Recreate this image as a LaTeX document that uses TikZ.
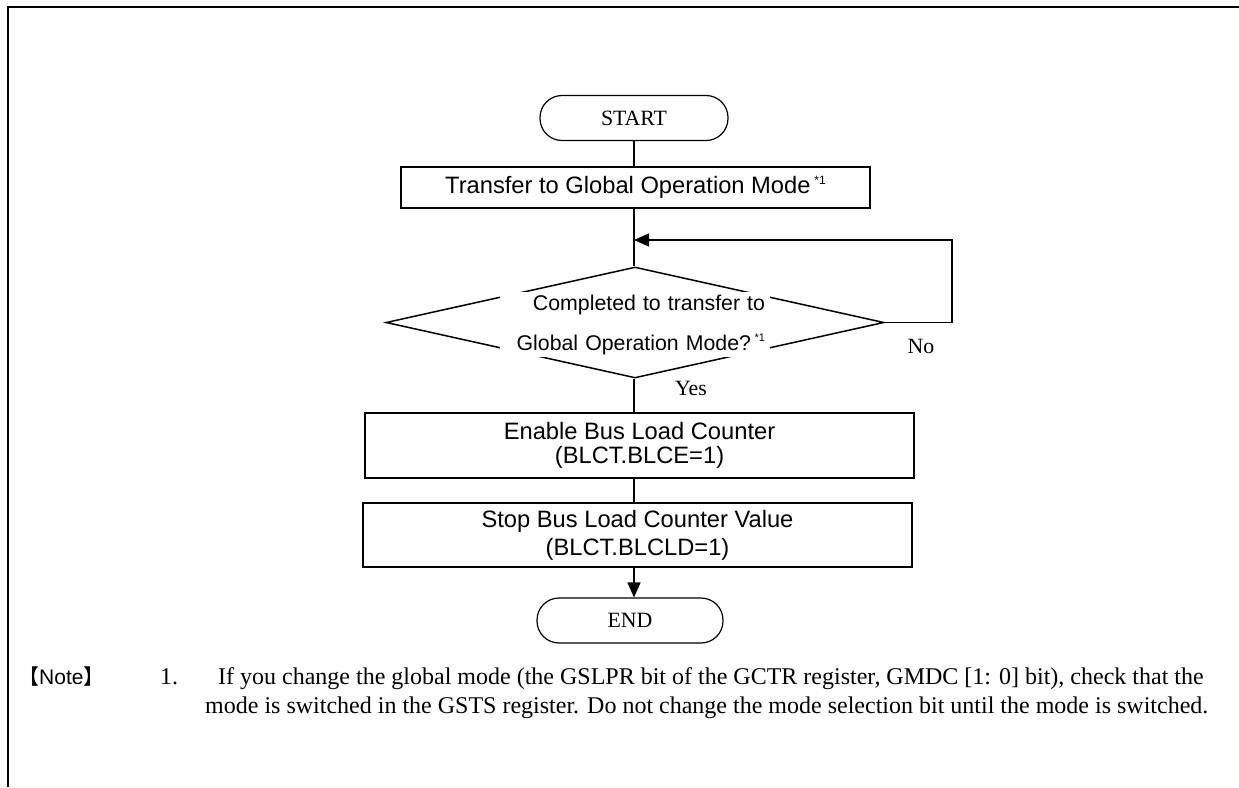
\documentclass[tikz,border=0pt]{standalone}
\usepackage{fontspec}
\setmainfont{Liberation Serif}
\newfontfamily\arial{Liberation Sans}
\newfontfamily\cjk{Noto Sans CJK JP}
\usetikzlibrary{arrows.meta,shapes.geometric}
\begin{document}
\begin{tikzpicture}[x=1pt,y=-1pt,
  conn/.style={draw=black, line width=1.5pt},
  arr/.style={-{Triangle[length=15pt,width=13pt]}},
  term/.style={draw=black, line width=1.2pt, rounded corners=22pt, minimum height=45pt, inner sep=0pt,
    font=\fontsize{21.8}{24}\selectfont},
  proc/.style={draw=black, line width=2pt, inner sep=0pt, align=center},
  sansbig/.style={font=\arial\fontsize{23.7}{21}\selectfont},
  lbl/.style={inner sep=0pt, font=\fontsize{21.8}{24}\selectfont},
  notetxt/.style={inner sep=0pt, anchor=base west, font=\fontsize{24}{29}\selectfont}]
\useasboundingbox (0,0) rectangle (1239,787);
% frame
\draw[line width=2pt] (8,787) -- (8,7) -- (1239,7);
\coordinate (cx) at (634,0);
% nodes
\node[term, minimum width=188pt] (st) at (634,118) {START};
\node[proc, sansbig, minimum width=469pt, minimum height=41pt] (tr) at (635.5,187.5)
  {Transfer to Global Operation Mode\,\raisebox{9pt}{\fontsize{12}{12}\selectfont *1}};
\node[diamond, draw=black, line width=1.5pt, minimum width=498pt, minimum height=111pt, inner sep=0pt] (dia) at (635,322.5) {};
\node[fill=white, inner xsep=5pt, inner ysep=0pt, text width=260pt, minimum height=65pt, align=right,
  font=\arial\fontsize{21.3}{40}\selectfont] (dtx) at (635,324.5)
  {Completed to transfer to\\Global Operation Mode?\,\raisebox{9pt}{\fontsize{11}{11}\selectfont *1}};
\node[lbl] (no) at (921,346) {No};
\node[lbl] (yes) at (691,388) {Yes};
\node[proc, font=\arial\fontsize{23.7}{24.5}\selectfont, minimum width=549pt, minimum height=65pt] (en) at (639.5,445.5)
  {Enable Bus Load Counter\\(BLCT.BLCE=1)};
\node[proc, font=\arial\fontsize{23.7}{28}\selectfont, minimum width=549pt, minimum height=64pt] (sp) at (637.5,535)
  {Stop Bus Load Counter Value\\(BLCT.BLCLD=1)};
\node[term, minimum width=186pt] (end) at (630,620.5) {END};
% loop coordinates
\coordinate (lp1) at (952,322.5);
\coordinate (lp2) at (952,240);
\coordinate (lp3) at (634,240);
% connectors
\draw[conn] (st.south -| cx) -- (tr.north -| cx);
\draw[conn] (tr.south -| cx) -- (dia.north -| cx);
\draw[conn, arr] (dia.east) -- (lp1) -- (lp2) -- (lp3);
\draw[conn] (dia.south -| cx) -- (en.north -| cx);
\draw[conn] (en.south -| cx) -- (sp.north -| cx);
\draw[conn, arr] (sp.south -| cx) -- (end.north -| cx);
% note
\node[inner sep=0pt, anchor=base west, font=\fontsize{21}{24}\selectfont] (nt) at (18,684)
  {{\cjk 【}{\arial Note}{\cjk 】}};
\node[notetxt] (n1) at (160,684) {1.};
\node[notetxt] (l1) at (218,684) {If you change the global mode (the GSLPR bit of the GCTR register, GMDC [1: 0] bit), check that the};
\node[notetxt] (l2) at (205,713) {mode is switched in the GSTS register. Do not change the mode selection bit until the mode is switched.};
\end{tikzpicture}
\end{document}
